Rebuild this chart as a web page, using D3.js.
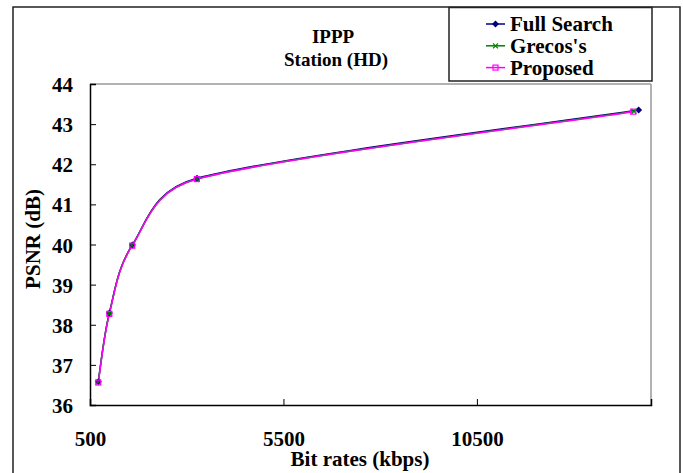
<!DOCTYPE html>
<html>
<head>
<meta charset="utf-8">
<script src="https://cdn.jsdelivr.net/npm/d3@7"></script>
<style>
  body { margin: 0; background: #fff; }
  svg text { font-family: "Liberation Serif", "Times New Roman", serif; font-weight: bold; fill: #000; }
</style>
</head>
<body>
<svg id="chart" width="683" height="473"></svg>
<script>
// data
var seriesNames = ['Full Search', "Grecos's", 'Proposed'];
var fullSearch = [[714, 36.58], [1000, 38.29], [1595, 39.99], [3265, 41.65], [14680, 43.35]];
var grecos     = [[712, 36.57], [998, 38.28], [1590, 39.98], [3262, 41.63], [14560, 43.32]];
var proposed   = [[714, 36.56], [1000, 38.27], [1592, 39.97], [3263, 41.63], [14540, 43.31]];
var xTicks = [500, 5500, 10500];
var yTicks = [36, 37, 38, 39, 40, 41, 42, 43, 44];

var colors = ['#000080', '#008000', '#ff00ff'];

// excel-like smoothed line: bezier, control length 1/6 of the chord of the
// neighbours, limited to half the segment
function smoothPath(pts) {
    var p = d3.path();
    var n = pts.length;
    function dist(a, b) { return Math.hypot(b[0] - a[0], b[1] - a[1]); }
    p.moveTo(pts[0][0], pts[0][1]);
    for (var i = 0; i < n - 1; i++) {
        var p0 = pts[Math.max(i - 1, 0)];
        var p1 = pts[i];
        var p2 = pts[i + 1];
        var p3 = pts[Math.min(i + 2, n - 1)];
        var d12 = dist(p1, p2);
        var d02 = dist(p0, p2);
        var d13 = dist(p1, p3);
        var b1 = (d02 / 6 < d12 / 2) ? 1 / 6 : d12 / (2 * d02);
        var b2 = (d13 / 6 < d12 / 2) ? 1 / 6 : d12 / (2 * d13);
        p.bezierCurveTo(
            p1[0] + b1 * (p2[0] - p0[0]), p1[1] + b1 * (p2[1] - p0[1]),
            p2[0] - b2 * (p3[0] - p1[0]), p2[1] - b2 * (p3[1] - p1[1]),
            p2[0], p2[1]);
    }
    return p.toString();
}

(function() {
    var svg = d3.select('#chart');

    // outer frame
    svg.append('rect')
    .attr('x', 13).attr('y', 7)
    .attr('width', 667).attr('height', 480)
    .style('fill', 'none')
    .style('stroke', '#222')
    .style('stroke-width', 1.5);

    var left = 90, right = 651, top = 84, bottom = 405;

    var x = d3.scaleLinear().domain([500, 15000]).range([left, right]);
    var y = d3.scaleLinear().domain([36, 44]).range([bottom, top]);

    // plot area: gray top/right, black axes
    svg.append('line')
    .attr('x1', left).attr('x2', right).attr('y1', top).attr('y2', top)
    .style('stroke', '#999').style('stroke-width', 1.5);
    svg.append('line')
    .attr('x1', right).attr('x2', right).attr('y1', top).attr('y2', bottom)
    .style('stroke', '#999').style('stroke-width', 1.5);

    var yAxis = svg.append('g')
    .attr('transform', 'translate(' + left + ',0)')
    .call(d3.axisRight(y).tickValues(yTicks).tickSize(6).tickFormat(d3.format('d')));
    yAxis.select('.domain').style('stroke', '#000').style('stroke-width', 1.5);
    yAxis.selectAll('.tick line').style('stroke', '#000');
    yAxis.selectAll('.tick text')
    .attr('x', -17).attr('dy', '0.36em')
    .attr('text-anchor', 'end')
    .style('font-size', '21px')
    .style('font-family', '"Liberation Serif", serif');

    var xAxis = svg.append('g')
    .attr('transform', 'translate(0,' + bottom + ')')
    .call(d3.axisTop(x).tickValues(xTicks).tickSize(6).tickFormat(d3.format('d')));
    xAxis.select('.domain').style('stroke', '#000').style('stroke-width', 1.5);
    xAxis.selectAll('.tick line').style('stroke', '#000');
    xAxis.selectAll('.tick text')
    .attr('y', 41).attr('dy', 0)
    .style('font-size', '21px')
    .style('font-family', '"Liberation Serif", serif');
    xAxis.selectAll('.tick').filter(function(d) { return d === 500; }).select('line').remove();

    // axis titles
    svg.append('text')
    .attr('transform', 'translate(39.5,239) rotate(-90)')
    .attr('text-anchor', 'middle')
    .style('font-size', '21px')
    .text('PSNR (dB)');

    svg.append('text')
    .attr('x', 360).attr('y', 466)
    .attr('text-anchor', 'middle')
    .style('font-size', '21px')
    .text('Bit rates (kbps)');

    // title
    svg.append('text')
    .attr('x', 333).attr('y', 43)
    .attr('text-anchor', 'middle')
    .style('font-size', '19px')
    .text('IPPP');
    svg.append('text')
    .attr('x', 336).attr('y', 66)
    .attr('text-anchor', 'middle')
    .style('font-size', '19px')
    .text('Station (HD)');

    // curves
    var allSeries = [fullSearch, grecos, proposed];
    allSeries.forEach(function(data, i) {
        var pts = data.map(function(d) { return [x(d[0]), y(d[1])]; });
        svg.append('path')
        .attr('d', smoothPath(pts))
        .style('fill', 'none')
        .style('stroke', colors[i])
        .style('stroke-width', 1.5);
    });

    function drawMarker(g, i, cx, cy) {
        if (i === 0) {
            g.append('path')
            .attr('d', 'M' + cx + ',' + (cy - 3.5) + 'L' + (cx + 3.5) + ',' + cy +
                       'L' + cx + ',' + (cy + 3.5) + 'L' + (cx - 3.5) + ',' + cy + 'Z')
            .style('fill', colors[0]);
        } else if (i === 1) {
            g.append('path')
            .attr('d', 'M' + (cx - 2.5) + ',' + (cy - 2.5) + 'L' + (cx + 2.5) + ',' + (cy + 2.5) +
                       'M' + (cx - 2.5) + ',' + (cy + 2.5) + 'L' + (cx + 2.5) + ',' + (cy - 2.5))
            .style('stroke', colors[1])
            .style('stroke-width', 1.2);
        } else {
            g.append('rect')
            .attr('x', cx - 2.5).attr('y', cy - 2.5)
            .attr('width', 5).attr('height', 5)
            .style('fill', 'none')
            .style('stroke', colors[2])
            .style('stroke-width', 1.2);
        }
    }

    allSeries.forEach(function(data, i) {
        var g = svg.append('g');
        data.forEach(function(d) {
            drawMarker(g, i, x(d[0]), y(d[1]));
        });
    });

    // legend
    svg.append('rect')
    .attr('x', 449).attr('y', 7.5)
    .attr('width', 203).attr('height', 73.5)
    .style('fill', '#fff')
    .style('stroke', '#222')
    .style('stroke-width', 1.5);

    seriesNames.forEach(function(name, i) {
        var ly = 24 + i * 21.8;
        var g = svg.append('g');
        g.append('line')
        .attr('x1', 486).attr('x2', 505)
        .attr('y1', ly).attr('y2', ly)
        .style('stroke', colors[i])
        .style('stroke-width', 1.5);
        drawMarker(g, i, 495.5, ly);
        g.append('text')
        .attr('x', 510).attr('y', ly + 7)
        .style('font-size', '21px')
        .text(name);
    });
})();
</script>
</body>
</html>
